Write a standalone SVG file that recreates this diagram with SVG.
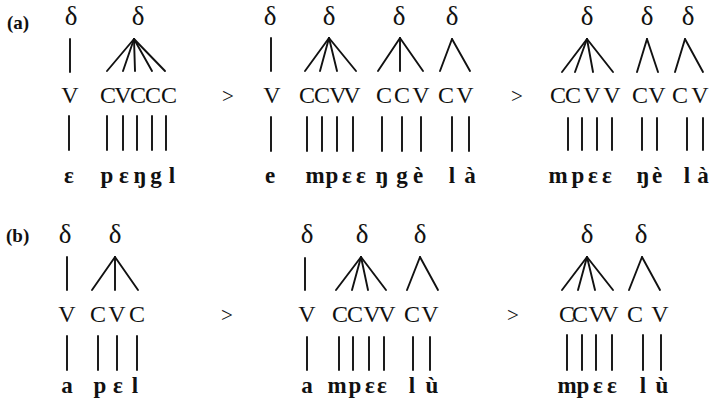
<svg xmlns="http://www.w3.org/2000/svg" width="714" height="410" viewBox="0 0 714 410">
<style>
text{font-family:"Liberation Serif","DejaVu Serif",serif;fill:#111;text-anchor:middle}
.d{font-size:27px}
.s{font-size:24px}
.p{font-size:23px;font-weight:bold}
.lab{font-size:19px;font-weight:bold;text-anchor:start}
.gt{font-size:21px}
#connectors line{stroke:#111;stroke-width:1.9;stroke-linecap:round}
</style>
<rect width="714" height="410" fill="#fff"/>
<g id="connectors">
<!-- (a) stage 1 -->
<line x1="70" y1="39" x2="70" y2="72"/>
<line x1="134" y1="39" x2="107" y2="71"/><line x1="134" y1="39" x2="123" y2="71"/><line x1="134" y1="39" x2="135" y2="71"/><line x1="134" y1="39" x2="152" y2="71"/><line x1="134" y1="39" x2="165" y2="71"/>
<line x1="69" y1="116" x2="69" y2="150"/>
<line x1="107" y1="116" x2="107" y2="150"/><line x1="123" y1="116" x2="123" y2="150"/><line x1="137" y1="116" x2="137" y2="150"/><line x1="152" y1="116" x2="152" y2="150"/><line x1="166" y1="116" x2="166" y2="150"/>
<!-- (a) stage 2 -->
<line x1="271" y1="38" x2="271" y2="71"/>
<line x1="329" y1="38" x2="305" y2="71"/><line x1="329" y1="38" x2="320" y2="71"/><line x1="329" y1="38" x2="337" y2="71"/><line x1="329" y1="38" x2="356" y2="71"/>
<line x1="400" y1="38" x2="378" y2="71"/><line x1="400" y1="38" x2="400" y2="71"/><line x1="400" y1="38" x2="423" y2="71"/>
<line x1="452" y1="39" x2="440" y2="71"/><line x1="452" y1="39" x2="470" y2="71"/>
<line x1="271" y1="117" x2="271" y2="151"/>
<line x1="307" y1="117" x2="307" y2="151"/><line x1="322" y1="117" x2="322" y2="151"/><line x1="337" y1="117" x2="337" y2="151"/><line x1="353" y1="117" x2="353" y2="151"/>
<line x1="382" y1="117" x2="382" y2="151"/><line x1="402" y1="117" x2="402" y2="151"/><line x1="421" y1="117" x2="421" y2="151"/>
<line x1="452" y1="117" x2="452" y2="151"/><line x1="469" y1="117" x2="469" y2="151"/>
<!-- (a) stage 3 -->
<line x1="587" y1="39" x2="562" y2="72"/><line x1="587" y1="39" x2="575" y2="72"/><line x1="587" y1="39" x2="593" y2="72"/><line x1="587" y1="39" x2="613" y2="72"/>
<line x1="647" y1="39" x2="637" y2="72"/><line x1="647" y1="39" x2="658" y2="72"/>
<line x1="685" y1="39" x2="675" y2="72"/><line x1="685" y1="39" x2="703" y2="72"/>
<line x1="568" y1="118" x2="568" y2="150"/><line x1="582" y1="118" x2="582" y2="150"/><line x1="597" y1="118" x2="597" y2="150"/><line x1="612" y1="118" x2="612" y2="150"/>
<line x1="642" y1="118" x2="642" y2="150"/><line x1="657" y1="118" x2="657" y2="150"/>
<line x1="687" y1="118" x2="687" y2="150"/><line x1="703" y1="118" x2="703" y2="150"/>
<!-- (b) stage 1 -->
<line x1="67" y1="257" x2="67" y2="290"/>
<line x1="115" y1="257" x2="92" y2="290"/><line x1="115" y1="257" x2="115" y2="290"/><line x1="115" y1="257" x2="138" y2="290"/>
<line x1="67" y1="336" x2="67" y2="370"/><line x1="98" y1="336" x2="98" y2="370"/><line x1="117" y1="336" x2="117" y2="370"/><line x1="137" y1="336" x2="137" y2="370"/>
<!-- (b) stage 2 -->
<line x1="305" y1="258" x2="305" y2="290"/>
<line x1="361" y1="257" x2="336" y2="290"/><line x1="361" y1="257" x2="352" y2="290"/><line x1="361" y1="257" x2="368" y2="290"/><line x1="361" y1="257" x2="386" y2="290"/>
<line x1="420" y1="257" x2="407" y2="290"/><line x1="420" y1="257" x2="438" y2="290"/>
<line x1="307" y1="337" x2="307" y2="370"/>
<line x1="339" y1="337" x2="339" y2="370"/><line x1="353" y1="337" x2="353" y2="370"/><line x1="369" y1="337" x2="369" y2="370"/><line x1="384" y1="337" x2="384" y2="370"/>
<line x1="413" y1="337" x2="413" y2="370"/><line x1="430" y1="337" x2="430" y2="370"/>
<!-- (b) stage 3 -->
<line x1="587" y1="257" x2="562" y2="290"/><line x1="587" y1="257" x2="578" y2="290"/><line x1="587" y1="257" x2="595" y2="290"/><line x1="587" y1="257" x2="613" y2="290"/>
<line x1="642" y1="257" x2="629" y2="290"/><line x1="642" y1="257" x2="660" y2="290"/>
<line x1="567" y1="335" x2="567" y2="370"/><line x1="582" y1="335" x2="582" y2="370"/><line x1="596" y1="335" x2="596" y2="370"/><line x1="612" y1="335" x2="612" y2="370"/>
<line x1="643" y1="335" x2="643" y2="370"/><line x1="661" y1="335" x2="661" y2="370"/>
</g>
<g id="label-a"><text class="lab" x="7" y="29">(a)</text></g>
<g id="label-b"><text class="lab" x="6" y="242">(b)</text></g>
<g id="a1">
<text class="d" x="71 138" y="25">δδ</text>
<text class="s" x="70 108 123 138 153 169" y="103">VCVCCC</text>
<text class="p" x="69 107 124 140 156 172" y="183">εpεŋgl</text>
</g>
<g id="a-arrow1"><text class="gt" x="228" y="103">&gt;</text></g>
<g id="a2">
<text class="d" x="270 329 399 452" y="25">δδδδ</text>
<text class="s" x="272 307 322 338 352 384 402 421 446 465" y="103">VCCVVCCVCV</text>
<text class="p" x="270 315 332 347 361 382 402 418 452 470" y="183">empεεŋgèlà</text>
</g>
<g id="a-arrow2"><text class="gt" x="517" y="103">&gt;</text></g>
<g id="a3">
<text class="d" x="587 647 688" y="25">δδδ</text>
<text class="s" x="558 573 592 612 640 657 680 700" y="103">CCVVCVCV</text>
<text class="p" x="558 578 593 607 643 657 687 703" y="183">mpεεŋèlà</text>
</g>
<g id="b1">
<text class="d" x="65 115" y="243">δδ</text>
<text class="s" x="67 98 117 137" y="322">VCVC</text>
<text class="p" x="67 100 118 135" y="393">apεl</text>
</g>
<g id="b-arrow1"><text class="gt" x="227" y="322">&gt;</text></g>
<g id="b2">
<text class="d" x="307 362 420" y="243">δδδ</text>
<text class="s" x="307 340 355 372 387 412 430" y="322">VCCVVCV</text>
<text class="p" x="307 337 355 370 382 412 432" y="393">ampεεlù</text>
</g>
<g id="b-arrow2"><text class="gt" x="513" y="322">&gt;</text></g>
<g id="b3">
<text class="d" x="587 641" y="243">δδ</text>
<text class="s" x="567 580 597 610 635 660" y="322">CCVVCV</text>
<text class="p" x="567 583 598 612 643 662" y="393">mpεεlù</text>
</g>
</svg>
